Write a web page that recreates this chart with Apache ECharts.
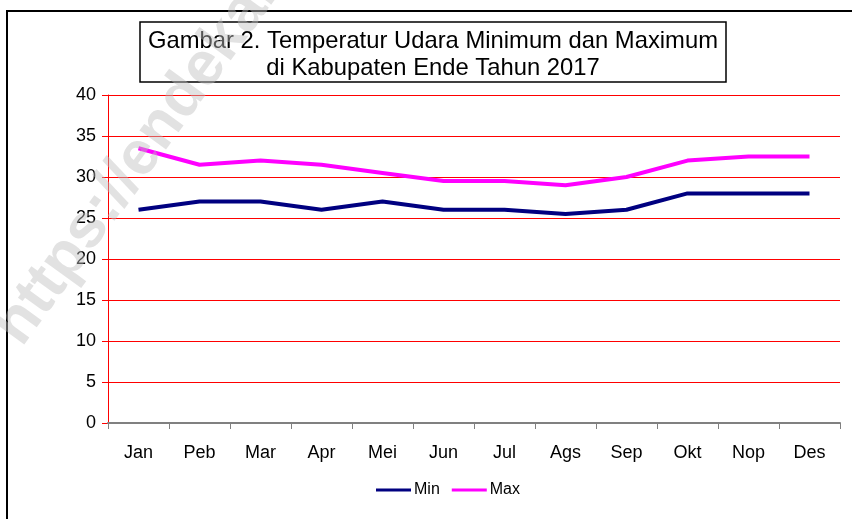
<!DOCTYPE html>
<html>
<head>
<meta charset="utf-8">
<script src="https://cdn.jsdelivr.net/npm/echarts@6/dist/echarts.min.js"></script>
<style>
  html, body { margin: 0; padding: 0; background: #fff; }
  #chart { width: 852px; height: 519px; }
</style>
</head>
<body>
<div id="chart"></div>
<script>
var months = ['Jan', 'Peb', 'Mar', 'Apr', 'Mei', 'Jun', 'Jul', 'Ags', 'Sep', 'Okt', 'Nop', 'Des']
var minTemp = [26, 27, 27, 26, 27, 26, 26, 25.5, 26, 28, 28, 28]
var maxTemp = [33.5, 31.5, 32, 31.5, 30.5, 29.5, 29.5, 29, 30, 32, 32.5, 32.5]
var titleLines = ['Gambar 2. Temperatur Udara Minimum dan Maximum', 'di Kabupaten Ende Tahun 2017']

var font = 'Liberation Sans, Arial, sans-serif'
var chart = echarts.init(document.getElementById('chart'))

chart.setOption({
  backgroundColor: '#fff',
  animation: false,
  graphic: [{
    // outer frame
    type: 'rect',
    shape: { x: 7, y: 11, width: 860, height: 520 },
    style: { fill: 'none', stroke: '#000', lineWidth: 2 },
    z: 0
  }, {
    type: 'rect',
    shape: { x: 140, y: 22, width: 586, height: 60 },
    style: { fill: '#fff', stroke: '#000', lineWidth: 1.5 },
    z: 5
  }, {
    type: 'text',
    x: 433, y: 41,
    style: {
      text: titleLines[0],
      font: '23.8px ' + font,
      fill: '#000',
      align: 'center',
      verticalAlign: 'middle'
    },
    z: 6
  }, {
    type: 'text',
    x: 433, y: 68,
    style: {
      text: titleLines[1],
      font: '23.8px ' + font,
      fill: '#000',
      align: 'center',
      verticalAlign: 'middle'
    },
    z: 6
  }, {
    // watermark
    type: 'text',
    x: 8, y: 338,
    rotation: Math.PI * 0.3,
    style: {
      text: 'https://endekab.go.id',
      font: 'bold 62px ' + font,
      fill: 'rgba(190,190,190,0.45)',
      textVerticalAlign: 'middle'
    },
    z: 20
  }],
  grid: {
    left: 108,
    right: 12,
    top: 95,
    bottom: 96
  },
  legend: {
    left: 376,
    top: 482,
    padding: 0,
    itemWidth: 35,
    itemHeight: 3,
    itemGap: 12,
    icon: 'rect',
    textStyle: { fontFamily: font, fontSize: 16, color: '#000', padding: [0, 0, 0, -2] },
    data: ['Min', 'Max']
  },
  xAxis: {
    type: 'category',
    data: months,
    boundaryGap: true,
    axisLine: { lineStyle: { color: '#808080', width: 2 } },
    axisTick: { show: true, length: 6, lineStyle: { color: '#808080' } },
    axisLabel: { fontFamily: font, fontSize: 18, color: '#000', margin: 21 },
    splitLine: { show: false },
    z: 3
  },
  yAxis: {
    type: 'value',
    min: 0,
    max: 40,
    interval: 5,
    axisLine: { show: true, lineStyle: { color: '#ff0000', width: 1 } },
    axisTick: { show: true, length: 6, lineStyle: { color: '#ff0000' } },
    axisLabel: { fontFamily: font, fontSize: 18, color: '#000', margin: 12 },
    splitLine: { show: true, lineStyle: { color: '#ff0000', width: 1 } }
  },
  series: [{
    name: 'Min',
    type: 'line',
    data: minTemp,
    showSymbol: false,
    symbol: 'none',
    itemStyle: { color: '#000080' },
    lineStyle: { color: '#000080', width: 4 },
    z: 4
  }, {
    name: 'Max',
    type: 'line',
    data: maxTemp,
    showSymbol: false,
    symbol: 'none',
    itemStyle: { color: '#ff00ff' },
    lineStyle: { color: '#ff00ff', width: 4 },
    z: 4
  }]
})
</script>
</body>
</html>
